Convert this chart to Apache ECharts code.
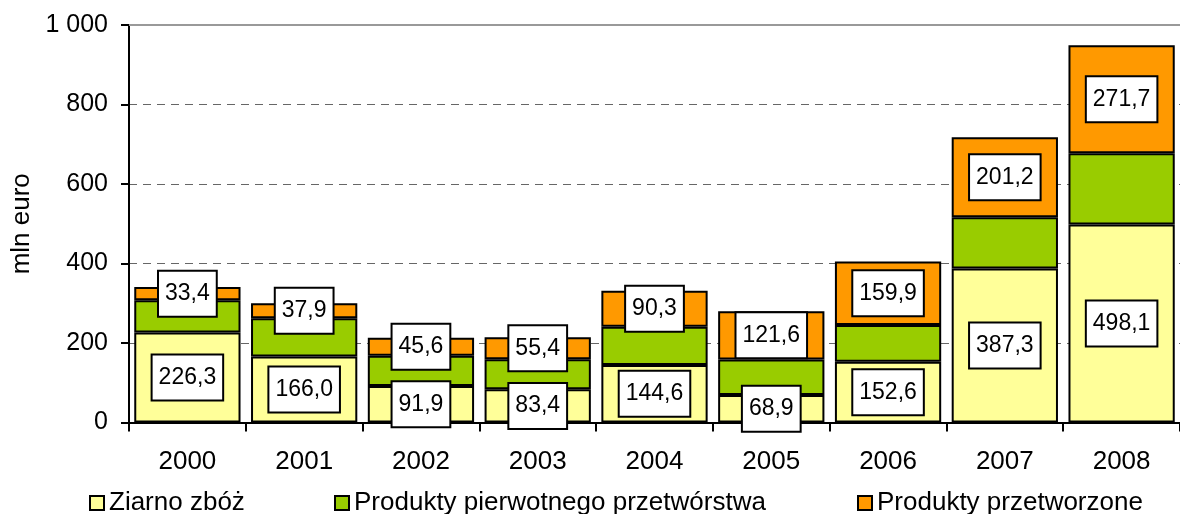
<!DOCTYPE html>
<html>
<head>
<meta charset="utf-8">
<script src="https://cdn.jsdelivr.net/npm/echarts@6/dist/echarts.min.js"></script>
<style>
html,body{margin:0;padding:0;background:#fff;}
#chart{width:1180px;height:514px;}
</style>
</head>
<body>
<div id="chart"></div>
<script>
var years = ['2000','2001','2002','2003','2004','2005','2006','2007','2008'];
var ziarno = [226.3, 166.0, 91.9, 83.4, 144.6, 68.9, 152.6, 387.3, 498.1];
var pierwotne = [81.0, 96.0, 76.0, 75.6, 96.4, 89.5, 92.4, 129.0, 179.0];
var przetworzone = [33.4, 37.9, 45.6, 55.4, 90.3, 121.6, 159.9, 201.2, 271.7];
var seriesNames = ['Ziarno zbóż', 'Produkty pierwotnego przetwórstwa', 'Produkty przetworzone'];
var yTicks = [0, 200, 400, 600, 800, 1000];

var FONT = '"Liberation Sans", Arial, sans-serif';
var chart = echarts.init(document.getElementById('chart'));

function fmtVal(v){ return v.toFixed(1).replace('.', ','); }
function fmtTick(v){ return String(v).replace(/\B(?=(\d{3})+(?!\d))/g, ' '); }

var labelStyle = {
  show: true,
  position: 'inside',
  formatter: function(p){ return fmtVal(p.value); },
  fontSize: 23,
  fontFamily: FONT,
  color: '#000',
  backgroundColor: '#fff',
  borderColor: '#000',
  borderWidth: 2,
  padding: [11, 6, 9, 6],
  lineHeight: 24
};

function legendFor(name, left){
  return {
    data: [name],
    left: left,
    top: 485,
    icon: 'rect',
    itemWidth: 14,
    itemHeight: 14,
    itemStyle: {borderColor: '#000', borderWidth: 2},
    textStyle: {fontSize: 26, fontFamily: FONT, color: '#000'},
    selectedMode: false
  };
}

var option = {
  animation: false,
  textStyle: {fontFamily: FONT},
  grid: {left: 129, top: 25, width: 1058, height: 397.5},
  legend: [legendFor(seriesNames[0], 84), legendFor(seriesNames[1], 329), legendFor(seriesNames[2], 852)],
  xAxis: {
    type: 'category',
    data: years,
    axisLine: {lineStyle: {color: '#000', width: 2}},
    axisTick: {show: true, length: 9, lineStyle: {color: '#000', width: 2}},
    axisLabel: {fontSize: 26, color: '#000', fontFamily: FONT, margin: 26}
  },
  yAxis: {
    type: 'value',
    min: yTicks[0],
    max: yTicks[yTicks.length - 1],
    interval: 200,
    name: 'mln euro',
    nameLocation: 'middle',
    nameGap: 91,
    nameTextStyle: {fontSize: 26, color: '#000', fontFamily: FONT},
    axisLine: {show: true, lineStyle: {color: '#000', width: 2}},
    axisTick: {show: true, length: 8, lineStyle: {color: '#000', width: 2}},
    axisLabel: {fontSize: 25, color: '#000', fontFamily: FONT, margin: 21, formatter: fmtTick},
    splitLine: {show: true, lineStyle: {color: '#666', width: 1, type: [8, 6]}}
  },
  series: [
    {
      name: seriesNames[0], type: 'bar', stack: 'a', data: ziarno,
      barCategoryGap: '9%',
      itemStyle: {color: '#FFFF99', borderColor: '#000', borderWidth: 2},
      label: labelStyle,
      markLine: {
        silent: true, symbol: 'none', label: {show: false},
        lineStyle: {color: '#999', width: 2, type: 'solid'},
        data: [{yAxis: 1000}]
      }
    },
    {
      name: seriesNames[1], type: 'bar', stack: 'a', data: pierwotne,
      itemStyle: {color: '#99CC00', borderColor: '#000', borderWidth: 2},
      label: {show: false}
    },
    {
      name: seriesNames[2], type: 'bar', stack: 'a', data: przetworzone,
      itemStyle: {color: '#FF9900', borderColor: '#000', borderWidth: 2},
      label: labelStyle
    }
  ]
};
chart.setOption(option);
</script>
</body>
</html>
